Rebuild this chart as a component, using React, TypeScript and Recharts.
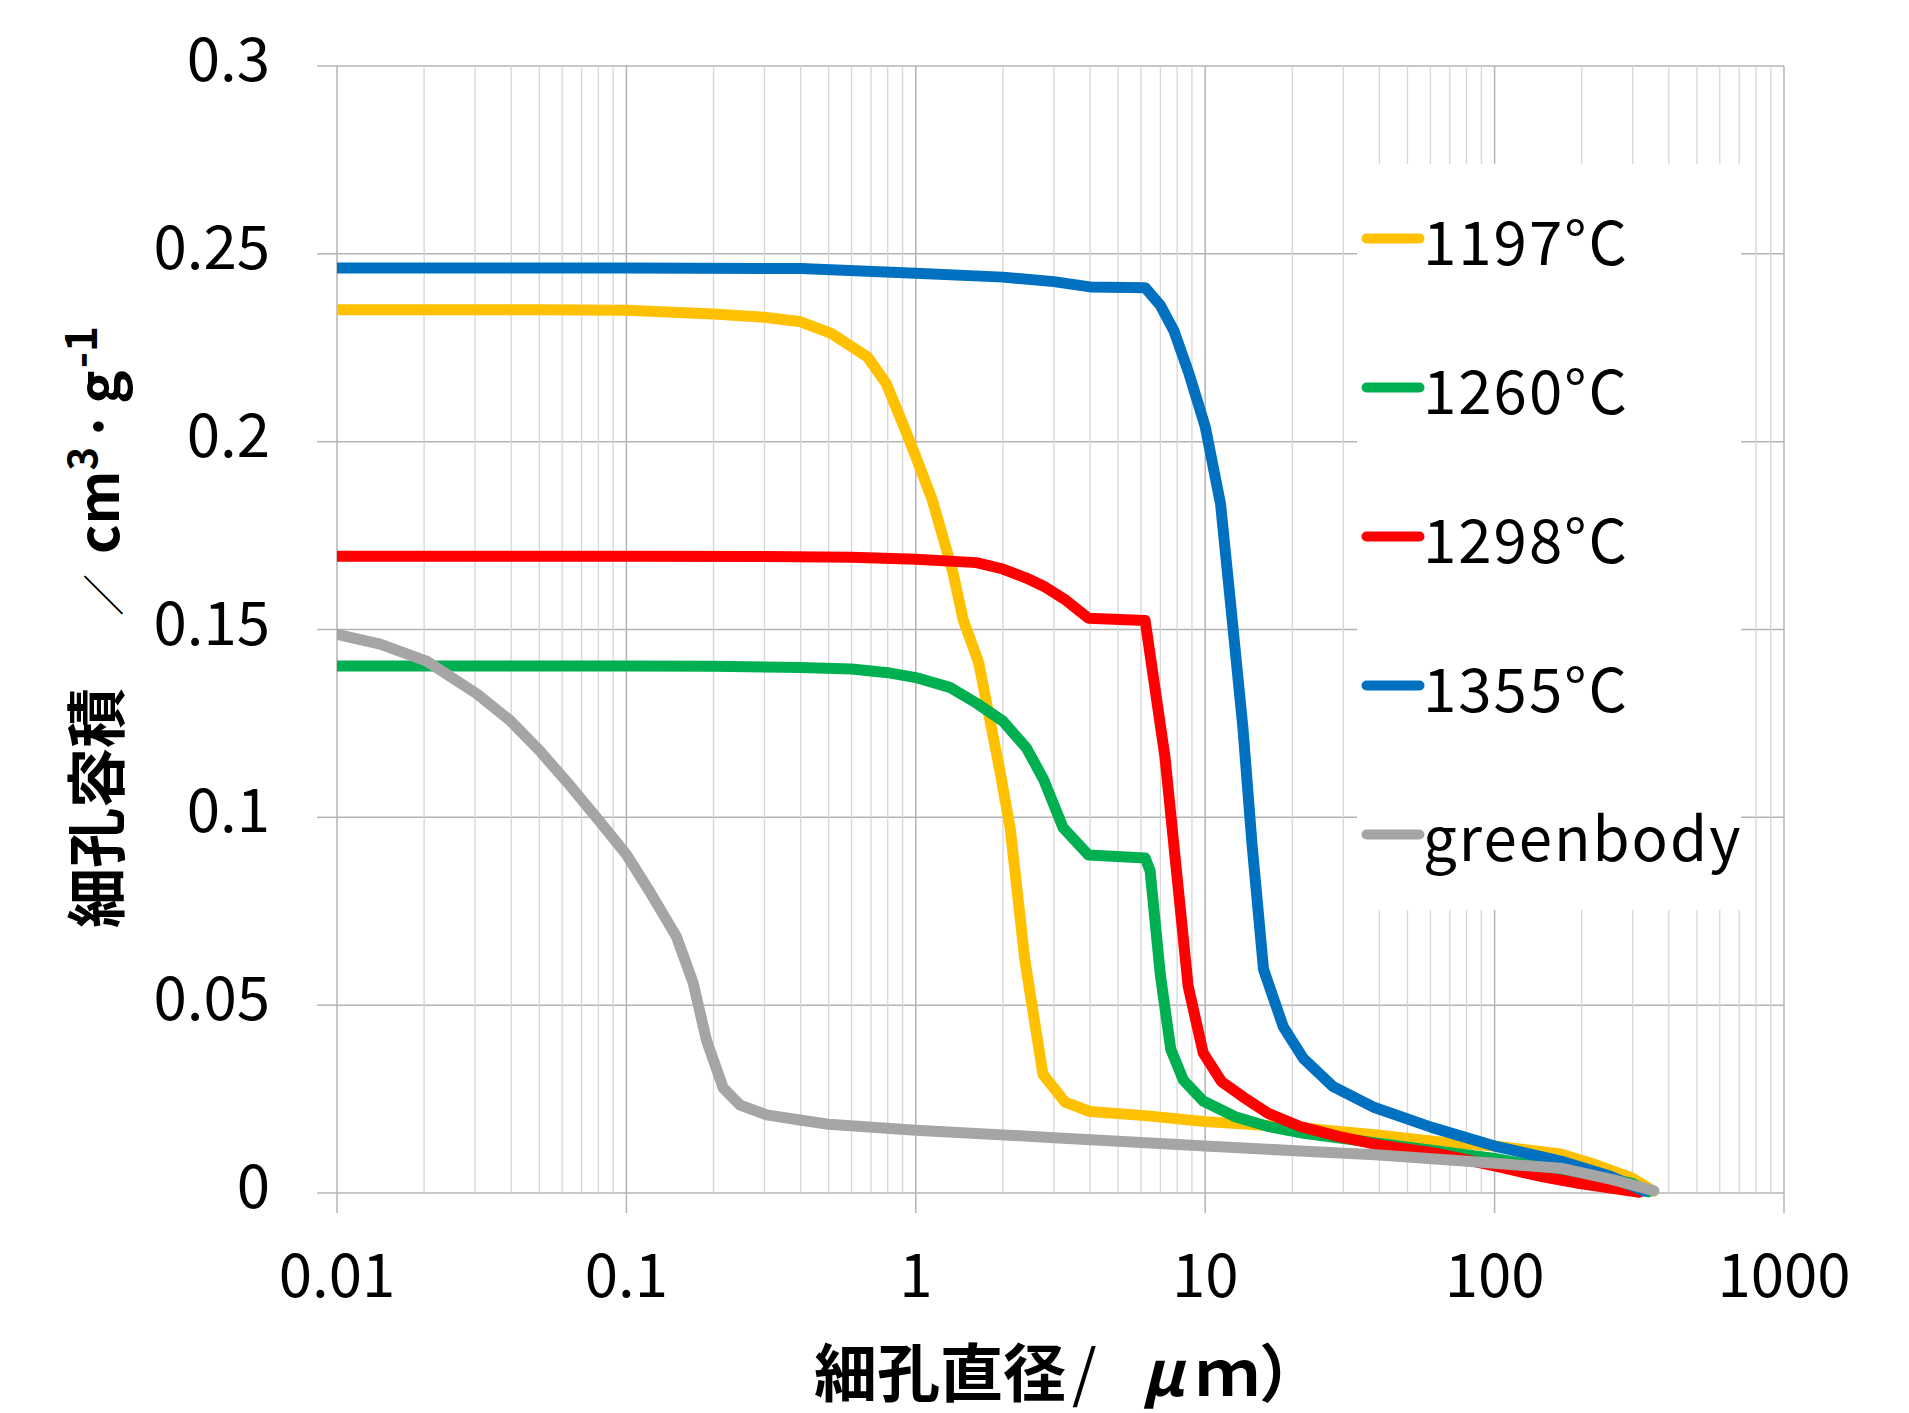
import {
  LineChart,
  Line,
  XAxis,
  YAxis,
  CartesianGrid,
  ReferenceLine,
  Legend,
  Label,
} from 'recharts';

const FONT = "'Noto Sans CJK JP', 'Noto Sans', sans-serif";

const xTicks = [0.01, 0.1, 1, 10, 100, 1000];
const xTickLabels = ['0.01', '0.1', '1', '10', '100', '1000'];
const yTicks = [0, 0.05, 0.1, 0.15, 0.2, 0.25, 0.3];
const yTickLabels = ['0', '0.05', '0.1', '0.15', '0.2', '0.25', '0.3'];

// minor log gridlines (2..9 in each decade)
const decades = [0.01, 0.1, 1, 10, 100];
const minorSteps = [2, 3, 4, 5, 6, 7, 8, 9];

// [pore diameter µm, cumulative pore volume cm3/g]
const s1197: [number, number][] = [
  [0.01, 0.2351], [0.02, 0.2351], [0.05, 0.2351], [0.1, 0.235], [0.2, 0.234],
  [0.3, 0.2331], [0.4, 0.2319], [0.51, 0.2288], [0.68, 0.2226], [0.79, 0.2155],
  [0.91, 0.204], [1.0, 0.196], [1.14, 0.1845], [1.34, 0.1656], [1.46, 0.1524],
  [1.65, 0.1411], [1.95, 0.1126], [2.12, 0.097], [2.38, 0.0621], [2.75, 0.0316],
  [3.28, 0.0242], [4.0, 0.0217], [6.2, 0.0206], [10, 0.019], [20, 0.0176],
  [40, 0.0154], [62, 0.0137], [100, 0.0125], [169, 0.0104], [224, 0.0075],
  [298, 0.004], [355, 0.0005],
];

const s1260: [number, number][] = [
  [0.01, 0.1403], [0.05, 0.1403], [0.1, 0.1403], [0.2, 0.1402], [0.4, 0.1399],
  [0.6, 0.1395], [0.8, 0.1385], [1.0, 0.1372], [1.31, 0.1346], [1.62, 0.1304],
  [2.0, 0.1256], [2.41, 0.1185], [2.76, 0.1102], [3.23, 0.0972], [3.95, 0.09],
  [6.2, 0.0892], [6.45, 0.0858], [7.0, 0.058], [7.6, 0.0383], [8.4, 0.0301],
  [9.84, 0.0245], [12.7, 0.0203], [16.5, 0.0177], [21.9, 0.0159], [40, 0.0132],
  [100, 0.0092], [169, 0.0061], [298, 0.0026], [340, 0.0003],
];

const s1298: [number, number][] = [
  [0.01, 0.1695], [0.1, 0.1695], [0.3, 0.1694], [0.6, 0.1692], [1.0, 0.1687],
  [1.62, 0.1678], [2.0, 0.1661], [2.41, 0.1637], [2.8, 0.1613], [3.3, 0.1578],
  [3.95, 0.153], [6.2, 0.1524], [7.26, 0.1161], [7.96, 0.0856], [8.73, 0.0551],
  [9.84, 0.0373], [11.4, 0.0296], [13.5, 0.0256], [16.5, 0.0212], [21.3, 0.0177],
  [29.1, 0.015], [39.7, 0.0128], [62.5, 0.0106], [100, 0.0072], [147, 0.0043],
  [195, 0.0026], [316, 0.0002],
];

const s1355: [number, number][] = [
  [0.01, 0.2462], [0.1, 0.2462], [0.4, 0.2461], [1.0, 0.2448], [2.0, 0.2438],
  [3.0, 0.2426], [4.0, 0.2412], [6.2, 0.241], [7.0, 0.2363], [7.8, 0.2295],
  [8.8, 0.218], [10, 0.204], [11.3, 0.1834], [12.5, 0.1498], [13.5, 0.1238],
  [14.5, 0.0932], [15.9, 0.0596], [18.6, 0.0443], [21.8, 0.0359], [27.7, 0.0283],
  [38, 0.0229], [61, 0.0174], [100, 0.0125], [169, 0.0085], [250, 0.0045],
  [330, 0.0005],
];

const sGreen: [number, number][] = [
  [0.01, 0.1487], [0.0141, 0.1461], [0.0204, 0.1416], [0.0304, 0.1329],
  [0.0396, 0.1258], [0.0503, 0.1176], [0.0638, 0.1085], [0.081, 0.0988],
  [0.1, 0.0901], [0.12, 0.0804], [0.149, 0.0682], [0.17, 0.056], [0.189, 0.0407],
  [0.216, 0.028], [0.247, 0.0234], [0.305, 0.0208], [0.408, 0.0193], [0.5, 0.0183],
  [1.0, 0.0167], [2.9, 0.0148], [10, 0.0125], [21.3, 0.0112], [40, 0.0101],
  [100, 0.0079], [169, 0.0066], [258, 0.0035], [355, 0.0006],
];

const series = [
  { name: '1197°C', color: '#FFC000', points: s1197 },
  { name: '1260°C', color: '#00B050', points: s1260 },
  { name: '1298°C', color: '#FF0000', points: s1298 },
  { name: '1355°C', color: '#0070C0', points: s1355 },
  { name: 'greenbody', color: '#A5A5A5', points: sGreen },
];

const toRows = (pts: [number, number][]) => pts.map(([d, v]) => ({ d, v }));

const YTick = ({ x, y, payload }: any) => (
  <text x={x} y={y} dy={15} textAnchor="end" fontSize={60} fontFamily={FONT} fill="#000">
    {yTickLabels[yTicks.indexOf(payload.value)]}
  </text>
);

const XTick = ({ x, y, payload }: any) => (
  <text x={x} y={y} dy={84} textAnchor="middle" fontSize={60} fontFamily={FONT} fill="#000">
    {xTickLabels[xTicks.indexOf(payload.value)]}
  </text>
);

const renderLegend = (props: any) => {
  const { payload } = props;
  return (
    <svg width={384} height={746} style={{ display: 'block', background: '#fff' }}>
      {payload.map((entry: any, i: number) => {
        const cy = 74.5 + 149 * i;
        return (
          <g key={entry.value}>
            <line x1={9.5} x2={62.5} y1={cy} y2={cy} stroke={entry.color} strokeWidth={10} strokeLinecap="round" />
            <text x={66} y={cy + 26} fontSize={60} letterSpacing={2} fontFamily={FONT} fill="#000">
              {entry.value}
            </text>
          </g>
        );
      })}
    </svg>
  );
};

export default function App() {
  return (
    <div style={{ position: 'absolute', left: 0, top: 0, background: '#fff' }}>
      <LineChart width={1909} height={1413} margin={{ top: 66, right: 125, bottom: 0, left: 0 }}>
        <CartesianGrid stroke="#B4B4B4" strokeWidth={1.5} />
        {decades.flatMap((dec) =>
          minorSteps.map((m) => (
            <ReferenceLine key={`${dec}-${m}`} x={dec * m} stroke="#D6D6D6" strokeWidth={1.3} />
          ))
        )}
        <XAxis
          dataKey="d"
          type="number"
          scale="log"
          domain={[0.01, 1000]}
          ticks={xTicks}
          allowDataOverflow
          height={220}
          tickSize={20}
          tickMargin={0}
          axisLine={false}
          tickLine={{ stroke: '#B4B4B4', strokeWidth: 1.5 }}
          tick={<XTick />}
        >
          <Label
            content={() => (
              <text y={1396} fontSize={63} fontWeight="bold" fontFamily={FONT} fill="#000">
                <tspan x={814}>細孔直径</tspan>
                <tspan x={1072} fontWeight="normal">/</tspan>
                <tspan x={1142} fontStyle="italic">μ</tspan>
                <tspan x={1196}>ｍ）</tspan>
              </text>
            )}
          />
        </XAxis>
        <YAxis
          type="number"
          domain={[0, 0.3]}
          ticks={yTicks}
          width={337}
          tickSize={20}
          tickMargin={47}
          axisLine={false}
          tickLine={{ stroke: '#B4B4B4', strokeWidth: 1.5 }}
          tick={<YTick />}
        >
          <Label
            content={() => (
              <text
                transform="translate(119, 928) rotate(-90)"
                fontSize={60}
                fontWeight="bold"
                fontFamily={FONT}
                fill="#000"
              >
                細孔容積
                <tspan dx={72} fontSize={42} fontWeight="normal">／</tspan>
                <tspan dx={20} fontSize={56}>cm</tspan>
                <tspan fontSize={40} dy={-22}>3</tspan>
                <tspan fontSize={56} dx={4} dy={22}>·</tspan>
                <tspan fontSize={56} dx={6}>g</tspan>
                <tspan fontSize={44} dx={2} dy={-22}>-1</tspan>
              </text>
            )}
          />
        </YAxis>
        {series.map((s) => (
          <Line
            key={s.name}
            data={toRows(s.points)}
            dataKey="v"
            name={s.name}
            type="linear"
            stroke={s.color}
            strokeWidth={11}
            strokeLinejoin="round"
            strokeLinecap="round"
            dot={false}
            activeDot={false}
            isAnimationActive={false}
          />
        ))}
        <Legend
          layout="vertical"
          align="center"
          verticalAlign="middle"
          content={renderLegend}
          wrapperStyle={{ left: 1357, top: 164, width: 384, height: 746 }}
        />
      </LineChart>
    </div>
  );
}
